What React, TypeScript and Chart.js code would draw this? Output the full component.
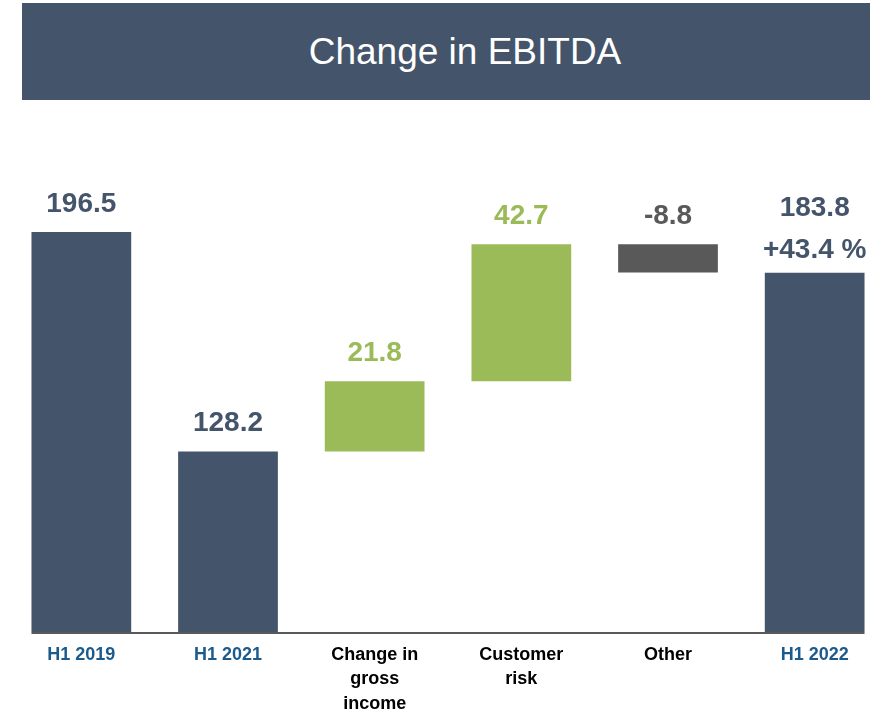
import React, { useEffect, useRef } from "react";
import { Chart, registerables } from "chart.js";

Chart.register(...registerables);

const categories: string[][] = [
  ["H1 2019"],
  ["H1 2021"],
  ["Change in", "gross", "income"],
  ["Customer", "risk"],
  ["Other"],
  ["H1 2022"],
];
const values: number[] = [196.5, 128.2, 21.8, 42.7, -8.8, 183.8];
const kinds: string[] = ["total", "total", "delta", "delta", "delta", "total"];
const valueLabels: string[] = ["196.5", "128.2", "21.8", "42.7", "-8.8", "183.8"];
const growthLabel = "+43.4 %";
const title = "Change in EBITDA";

const SLATE = "#44546A";
const GREEN = "#9BBB59";
const GREY = "#595959";
const BLUE = "#1B5A8C";

function buildFloating(): [number, number][] {
  const out: [number, number][] = [];
  let running = 0;
  for (let i = 0; i < values.length; i++) {
    if (kinds[i] === "total") {
      running = values[i];
      out.push([0, values[i]]);
    } else {
      const start = running;
      running = running + values[i];
      out.push([start, running]);
    }
  }
  return out;
}

function barColor(i: number): string {
  if (kinds[i] === "total") return SLATE;
  return values[i] >= 0 ? GREEN : GREY;
}

const labelPlugin = {
  id: "wfLabels",
  afterDatasetsDraw(chart: any) {
    const ctx = chart.ctx;
    const meta = chart.getDatasetMeta(0);
    const data = chart.data.datasets[0].data as [number, number][];
    const yScale = chart.scales.y;
    ctx.save();
    const first = meta.data[0];
    const last = meta.data[meta.data.length - 1];
    const yBase = chart.chartArea.bottom + 1;
    ctx.strokeStyle = GREY;
    ctx.lineWidth = 2;
    ctx.beginPath();
    ctx.moveTo(first.x - first.width / 2, yBase);
    ctx.lineTo(last.x + last.width / 2, yBase);
    ctx.stroke();

    ctx.font = "bold 28px 'Liberation Sans', Arial, sans-serif";
    ctx.textAlign = "center";
    ctx.textBaseline = "middle";
    meta.data.forEach((bar: any, i: number) => {
      const top = yScale.getPixelForValue(Math.max(data[i][0], data[i][1]));
      const color = kinds[i] === "total" ? SLATE : values[i] >= 0 ? GREEN : GREY;
      ctx.fillStyle = color;
      if (i === meta.data.length - 1) {
        ctx.fillText(valueLabels[i], bar.x, top - 64);
        ctx.fillText(growthLabel, bar.x, top - 22);
      } else {
        ctx.fillText(valueLabels[i], bar.x, top - 28);
      }
    });
    ctx.restore();
  },
};

export default function App() {
  const ref = useRef<HTMLCanvasElement | null>(null);
  useEffect(() => {
    if (!ref.current) return;
    const floating = buildFloating();
    const chart = new Chart(ref.current, {
      type: "bar",
      data: {
        labels: categories as any,
        datasets: [
          {
            data: floating as any,
            backgroundColor: values.map((_, i) => barColor(i)),
            borderWidth: 0,
            categoryPercentage: 1,
            barPercentage: 0.68,
            borderSkipped: false,
          },
        ],
      },
      options: {
        animation: false,
        responsive: false,
        maintainAspectRatio: false,
        layout: { padding: { left: 8, right: 1, top: 150, bottom: 0 } },
        plugins: {
          legend: { display: false },
          tooltip: { enabled: false },
          title: { display: false },
        },
        scales: {
          x: {
            grid: { display: false, drawTicks: false },
            border: { display: false },
            afterFit: (scale: any) => {
              scale.height = 81;
            },
            ticks: {
              padding: 11,
              maxRotation: 0,
              autoSkip: false,
              font: { family: "'Liberation Sans', Arial, sans-serif", size: 18, weight: "bold", lineHeight: 1.35 },
              color: (c: any) => (kinds[c.index] === "total" ? BLUE : "#000000"),
            },
          },
          y: {
            display: false,
            min: 72,
            max: 222,
          },
        },
      },
      plugins: [labelPlugin],
    });
    return () => chart.destroy();
  }, []);

  return (
    <div style={{ position: "fixed", left: 0, top: 0, width: 889, height: 713, background: "#fff" }}>
      <div
        style={{
          position: "absolute",
          left: 22,
          top: 3,
          width: 848,
          height: 97,
          boxSizing: "border-box",
          paddingLeft: 38,
          background: SLATE,
          color: "#fff",
          fontFamily: "'Liberation Sans', Arial, sans-serif",
          fontSize: 37,
          display: "flex",
          alignItems: "center",
          justifyContent: "center",
        }}
      >
        {title}
      </div>
      <canvas ref={ref} width={889} height={713} style={{ position: "absolute", left: 0, top: 0 }} />
    </div>
  );
}
